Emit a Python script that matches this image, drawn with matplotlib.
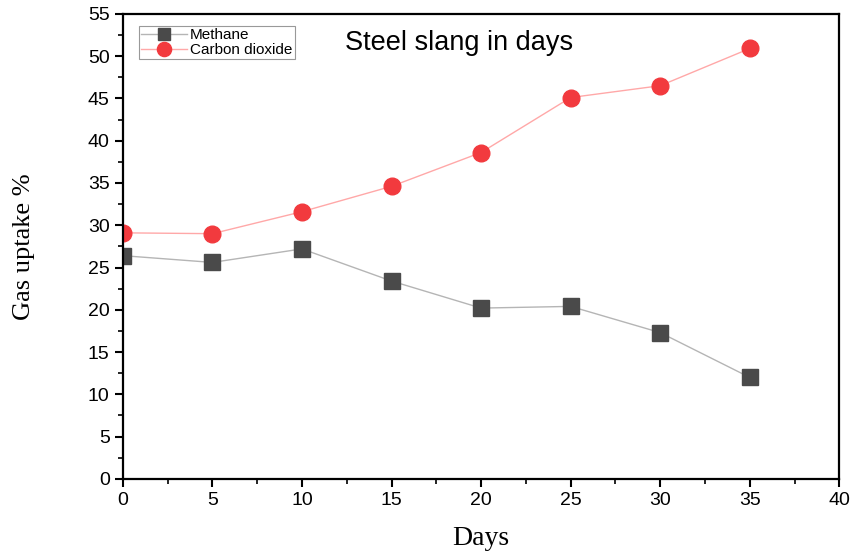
import matplotlib
matplotlib.use("Agg")
import matplotlib.pyplot as plt
from matplotlib.ticker import MultipleLocator

days = [0, 5, 10, 15, 20, 25, 30, 35]
methane = [26.4, 25.6, 27.2, 23.4, 20.2, 20.4, 17.3, 12.0]
co2 = [29.1, 29.0, 31.6, 34.6, 38.6, 45.1, 46.5, 50.9]

fig = plt.figure(figsize=(8.53, 5.53), dpi=100)
ax = fig.add_axes([0.144, 0.134, 0.840, 0.841])

ax.plot(days, methane, color="#b5b5b5", lw=1, marker="s", ms=11,
        mfc="#4a4a4a", mec="#4a4a4a", label="Methane")
ax.plot(days, co2, color="#ffa8a8", lw=1, marker="o", ms=12,
        mfc="#f23a3e", mec="#f23a3e", label="Carbon dioxide")

ax.set_xlim(0, 40)
ax.set_ylim(0, 55)
ax.xaxis.set_major_locator(MultipleLocator(5))
ax.xaxis.set_minor_locator(MultipleLocator(2.5))
ax.yaxis.set_major_locator(MultipleLocator(5))
ax.yaxis.set_minor_locator(MultipleLocator(2.5))
ax.tick_params(which="major", direction="out", length=6, width=1.5,
               labelsize=14)
ax.tick_params(which="minor", direction="out", length=3.5, width=1.2)
for lab in ax.get_xticklabels() + ax.get_yticklabels():
    lab.set_family("Liberation Sans")
for sp in ax.spines.values():
    sp.set_linewidth(1.6)

ax.set_xlabel("Days", family="Liberation Serif", fontsize=20, labelpad=12)
ax.set_ylabel("Gas uptake %", family="Liberation Serif", fontsize=19,
              labelpad=38)
ax.text(0.31, 0.923, "Steel slang in days", transform=ax.transAxes,
        family="Liberation Sans", fontsize=19.5)

leg = ax.legend(loc="upper left", bbox_to_anchor=(0.012, 0.99),
                prop={"family": "Liberation Sans", "size": 11},
                fancybox=False, framealpha=1, edgecolor="#999999",
                handlelength=3.0, borderpad=0.15, labelspacing=0.05,
                handletextpad=0.2, markerscale=0.85)
leg.get_frame().set_linewidth(0.8)

fig.savefig("out.png", dpi=100)
